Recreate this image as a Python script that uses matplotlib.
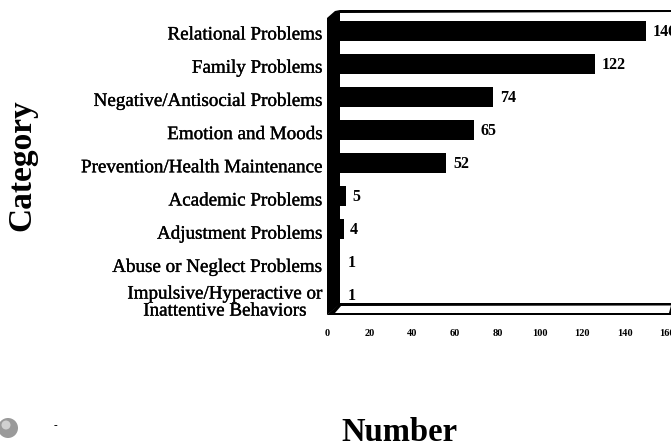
import matplotlib
matplotlib.use("Agg")
import matplotlib.pyplot as plt
import matplotlib.patheffects as pe
from matplotlib.patches import Polygon, Ellipse

categories = ["Relational Problems", "Family Problems", "Negative/Antisocial Problems",
              "Emotion and Moods", "Prevention/Health Maintenance", "Academic Problems",
              "Adjustment Problems", "Abuse or Neglect Problems",
              "Impulsive/Hyperactive or\nInattentive Behaviors"]
values = [146, 122, 74, 65, 52, 5, 4, 1, 1]
xticks = [0, 20, 40, 60, 80, 100, 120, 140, 160]

W, H = 671, 443
plt.rcParams["font.family"] = ["Liberation Serif", "DejaVu Serif"]
fig = plt.figure(figsize=(W / 100, H / 100), dpi=100, facecolor="white")

x0, x1, y_top, y_bot = 335.5, 675.3, 11, 304
ax = fig.add_axes([x0 / W, 1 - y_bot / H, (x1 - x0) / W, (y_bot - y_top) / H])
ax.set_xlim(0, 160)
ax.set_ylim(8.27, -0.606)
ax.axis("off")
ax.patch.set_alpha(0)

thick = [pe.withStroke(linewidth=0.25, foreground="black")]

ax.barh(range(len(values)), values, height=0.6, color="black", zorder=2)

def P(pts):
    return [(x / W, 1 - y / H) for x, y in pts]

# 3-D frame: top edge, left wall, floor
fig.add_artist(Polygon(P([(340, 10), (671, 10), (671, 12), (340, 13)]), closed=True, fc="black", ec="none"))
fig.add_artist(Polygon(P([(327, 18), (335, 11), (340, 10), (340, 304), (327, 315)]), closed=True, fc="black", ec="none"))
fig.add_artist(Polygon(P([(327, 315), (340, 303), (671, 303), (671, 315)]), closed=True, fc="black", ec="none"))
fig.add_artist(Polygon(P([(335, 313), (341, 306), (671, 305.5), (669, 313)]), closed=True, fc="white", ec="none"))

# Category labels, right-aligned against the wall
for i, c in enumerate(categories):
    ax.annotate(c, xy=(0, i), xycoords="data", xytext=(322, H - (35 + 33.2 * i) - (2 if i == 8 else 0)),
                textcoords="figure pixels", ha="right", va="center", multialignment="center",
                fontsize=13.7, color="black", linespacing=1.0, path_effects=thick)

# Value labels
for i, v in enumerate(values):
    off = 7 if v > 10 else (6 if v > 1 else 10)
    ax.annotate(str(v), xy=(v, i), xytext=(off, -1), textcoords="offset pixels",
                ha="left", va="center", fontsize=11.5, fontweight="bold", annotation_clip=False)

# Tick labels, shifted with the 3-D offset
for t in xticks:
    ax.annotate(str(t), xy=(t, 8.27), xytext=(-8, -29), textcoords="offset pixels",
                ha="center", va="center", fontsize=7.5, fontweight="bold", annotation_clip=False)

fig.text(22 / W, 1 - 165 / H, "Category", rotation=90, ha="center", va="center",
         fontsize=24, fontweight="bold")
fig.text(399.5 / W, 1 - 441 / H, "Number", ha="center", va="baseline",
         fontsize=23.5, fontweight="bold")

# Scan specks in the lower-left corner
fig.add_artist(Ellipse((8 / W, 1 - 428 / H), width=20 / W, height=20 / H, fc="#9a9a9a", ec="none"))
fig.add_artist(Ellipse((6 / W, 1 - 425 / H), width=9 / W, height=9 / H, fc="#d0d0d0", ec="none"))
fig.text(55 / W, 1 - 426 / H, "-", fontsize=8, fontweight="bold", ha="center", va="center")

fig.savefig("out.png", dpi=100)
